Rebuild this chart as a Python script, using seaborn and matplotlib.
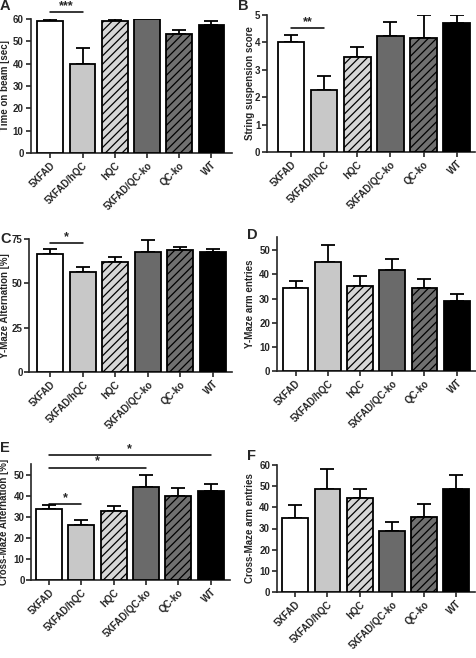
import numpy as np
import pandas as pd
import seaborn as sns
import matplotlib.pyplot as plt

# groups shared by all panels
groups = ['5XFAD', '5XFAD/hQC', 'hQC', '5XFAD/QC-ko', 'QC-ko', 'WT']

# means and SEM per panel
beam_mean = [59.0, 40.0, 59.3, 60.0, 53.5, 57.5]
beam_sem = [1.0, 7.0, 0.6, 0.0, 1.6, 1.6]
string_mean = [4.00, 2.25, 3.47, 4.25, 4.17, 4.72]
string_sem = [0.28, 0.52, 0.38, 0.48, 0.83, 0.28]
yalt_mean = [66.5, 56.5, 62.0, 67.5, 69.0, 67.5]
yalt_sem = [2.6, 2.6, 3.0, 7.0, 1.6, 1.8]
yarm_mean = [34.2, 45.0, 35.0, 42.0, 34.5, 29.0]
yarm_sem = [3.0, 7.0, 4.2, 4.5, 3.7, 2.7]
xalt_mean = [33.8, 26.2, 33.0, 44.5, 40.3, 42.7]
xalt_sem = [2.0, 2.4, 2.2, 5.7, 3.5, 3.4]
xarm_mean = [35.0, 48.7, 44.5, 29.0, 35.3, 48.5]
xarm_sem = [6.0, 9.5, 4.3, 4.2, 6.2, 6.6]

colors = ['#ffffff', '#c8c8c8', '#d6d6d6', '#6a6a6a', '#707070', '#000000']
hatches = ['', '', '////', '', '////', '']

sns.set_style('ticks')
plt.rcParams['font.family'] = ['Liberation Sans', 'DejaVu Sans']
plt.rcParams['hatch.linewidth'] = 0.9

fig = plt.figure(figsize=(4.77, 6.58), dpi=100)
W, H = 477, 658


def px_axes(l, t, r, b, c0, c5):
    ax = fig.add_axes([l / W, 1 - b / H, (r - l) / W, (b - t) / H])
    slot = (c5 - c0) / 5
    return ax, ((l - c0) / slot, (r - c0) / slot)


def panel(axinfo, mean, sem, ylabel, ymax, yticks, letter, lxy, ylab_x, sigs):
    ax, xlim = axinfo
    df = pd.DataFrame({'group': groups, 'value': mean})
    sns.barplot(data=df, x='group', y='value', hue='group', palette=colors,
                legend=False, edgecolor='black', linewidth=1.3, width=0.8,
                errorbar=None, ax=ax, zorder=3)
    for p, h in zip(ax.patches, hatches):
        p.set_hatch(h)
    ax.errorbar(np.arange(len(groups)), mean, yerr=[np.zeros(len(sem)), sem],
                fmt='none', ecolor='black', elinewidth=1.3, capsize=5,
                capthick=1.3, zorder=2)
    ax.set_xlim(*xlim)
    ax.set_ylim(0, ymax)
    ax.set_yticks(yticks)
    ax.set_xlabel('')
    ax.set_ylabel(ylabel, fontsize=7, fontweight='bold')
    # ylab_x = right edge of the rotated label, in figure pixels
    bb = ax.get_position()
    ax.yaxis.set_label_coords((ylab_x / W - bb.x0) / bb.width, 0.5)
    ax.tick_params(axis='both', labelsize=7, width=1.2, length=3.5, pad=1.5)
    plt.setp(ax.get_xticklabels(), rotation=45, ha='right',
             rotation_mode='anchor', fontweight='bold')
    plt.setp(ax.get_yticklabels(), fontweight='bold')
    sns.despine(ax=ax)
    for s in ['left', 'bottom']:
        ax.spines[s].set_linewidth(1.2)
    for x0, x1, y, txt in sigs:
        ax.plot([x0, x1], [y, y], color='black', lw=1.1, clip_on=False)
        ax.text((x0 + x1) / 2, y, txt, ha='center', va='bottom',
                fontsize=9, fontweight='bold')
    fig.text(lxy[0] / W, 1 - lxy[1] / H, letter, fontsize=10.5,
             fontweight='bold', ha='left', va='top')


panel(px_axes(30.5, 19, 232, 153, 50.3, 211.5), beam_mean, beam_sem,
      'Time on beam [sec]', 60, [0, 10, 20, 30, 40, 50, 60], 'A', (0, -1),
      10.5, [(0, 1, 63, '***')])

panel(px_axes(267.3, 15, 475.3, 152, 291, 456.7), string_mean, string_sem,
      'String suspension score', 5, [0, 1, 2, 3, 4, 5], 'B', (238, -1),
      255.5, [(0, 1, 4.52, '**')])

panel(px_axes(29.5, 239, 231.7, 372, 50.3, 212.7), yalt_mean, yalt_sem,
      'Y-Maze Alternation [%]', 75, [0, 25, 50, 75], 'C', (0, 232),
      10.5, [(0, 1, 72.7, '*')])

panel(px_axes(277, 237, 476, 371, 295.5, 456.7), yarm_mean, yarm_sem,
      'Y-Maze arm entries', 55.5, [0, 10, 20, 30, 40, 50], 'D', (247, 228),
      255, [])

panel(px_axes(31.5, 464, 230, 580, 48.7, 210.8), xalt_mean, xalt_sem,
      'Cross-Maze Alternation [%]', 55.5, [0, 10, 20, 30, 40, 50], 'E',
      (0, 441), 9,
      [(0, 1, 36.5, '*'), (0, 3, 53.8, '*'), (0, 5, 59.6, '*')])

panel(px_axes(277, 465, 474.7, 592, 295.2, 456.3), xarm_mean, xarm_sem,
      'Cross-Maze arm entries', 60, [0, 10, 20, 30, 40, 50, 60], 'F',
      (247, 449), 255, [])

fig.savefig('out.png', dpi=100)
